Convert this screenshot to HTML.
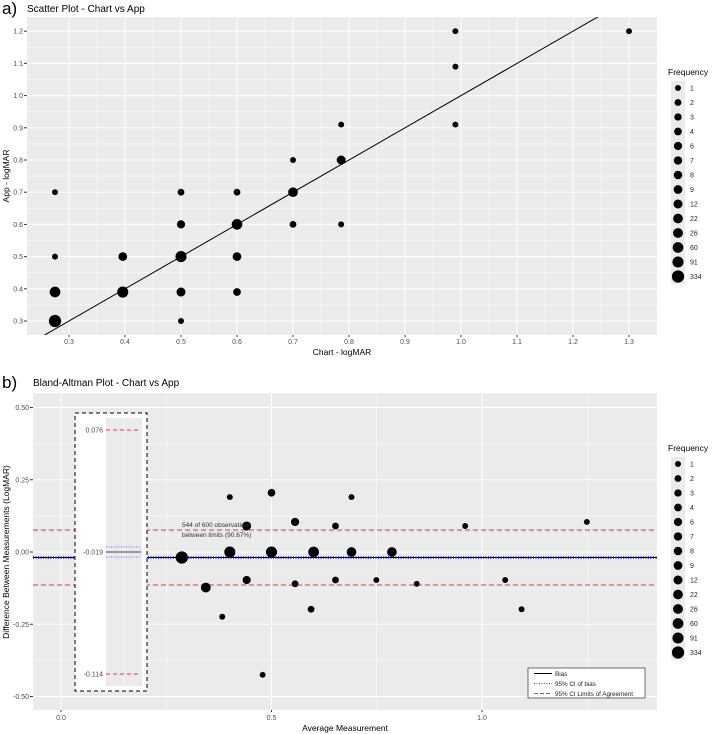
<!DOCTYPE html>
<html><head><meta charset="utf-8">
<style>
html,body{margin:0;padding:0;background:#fff;}
svg{display:block;font-family:"Liberation Sans",Arial,sans-serif;}
</style></head>
<body>
<svg id="chart" width="716" height="734" viewBox="0 0 716 734" xmlns="http://www.w3.org/2000/svg"></svg>
<script>
// ---- Panel a data ----
const aX = [0.275,0.275,0.275,0.275,0.396,0.396,0.5,0.5,0.5,0.5,0.5,0.6,0.6,0.6,0.6,0.7,0.7,0.7,0.786,0.786,0.786,0.99,0.99,0.99,1.3];
const aY = [0.3,0.39,0.5,0.7,0.39,0.5,0.3,0.39,0.5,0.6,0.7,0.39,0.5,0.6,0.7,0.6,0.7,0.8,0.6,0.8,0.91,0.91,1.09,1.2,1.2];
const aF = [334,60,1,1,91,9,1,12,91,6,2,4,9,60,2,2,22,1,1,12,1,1,1,1,1];
const aXTicks = [0.3,0.4,0.5,0.6,0.7,0.8,0.9,1.0,1.1,1.2,1.3];
const aYTicks = [0.3,0.4,0.5,0.6,0.7,0.8,0.9,1.0,1.1,1.2];
// ---- Panel b data ----
const bX = [0.287,0.401,0.5,0.6,0.69,0.786,0.344,0.401,0.441,0.441,0.383,0.5,0.479,0.556,0.556,0.594,0.652,0.652,0.69,0.749,0.845,0.96,1.055,1.094,1.249];
const bY = [-0.019,0,0,0,0,0,-0.123,0.19,0.09,-0.097,-0.224,0.205,-0.425,0.104,-0.11,-0.198,0.09,-0.097,0.19,-0.097,-0.11,0.09,-0.097,-0.198,0.104];
const bF = [334,91,91,60,22,22,26,1,12,6,1,4,1,6,2,2,2,2,1,1,1,1,1,1,1];
const bXTicks = [0.0,0.5,1.0];
const bYTicks = [0.5,0.25,0,-0.25,-0.5];
const bYLabels = ["0.50","0.25","0.00","-0.25","-0.50"];
const bias = -0.019, loaHi = 0.076, loaLo = -0.114, ciHi = -0.016, ciLo = -0.022;
const freqLevels = [1,2,3,4,6,7,8,9,12,22,26,60,91,334];

const NS="http://www.w3.org/2000/svg";
const svg=document.getElementById('chart');
function el(tag,attrs,parent){const e=document.createElementNS(NS,tag);for(const k in attrs)e.setAttribute(k,attrs[k]);(parent||svg).appendChild(e);return e;}
function txt(s,attrs,parent){const e=el('text',attrs,parent);e.textContent=s;return e;}
function rad(f){return 1.3+Math.sqrt(Math.log(f+1))*2.0;}

// ===== Panel a =====
const aL=27,aR=657,aT=17,aB=335;
const ax=v=>69+(v-0.3)*560;
const ay=v=>321-(v-0.3)*322;
const ga=el('g',{});


el('rect',{x:aL,y:aT,width:aR-aL,height:aB-aT,fill:'#ebebeb'},ga);
for(let i=0;i<aXTicks.length-1;i++){const m=ax((aXTicks[i]+aXTicks[i+1])/2);el('line',{x1:m,x2:m,y1:aT,y2:aB,stroke:'#fff','stroke-width':0.5},ga);}
for(let i=0;i<aYTicks.length-1;i++){const m=ay((aYTicks[i]+aYTicks[i+1])/2);el('line',{x1:aL,x2:aR,y1:m,y2:m,stroke:'#fff','stroke-width':0.5},ga);}
aXTicks.forEach(t=>{const x=ax(t);el('line',{x1:x,x2:x,y1:aT,y2:aB,stroke:'#fff','stroke-width':1},ga);el('line',{x1:x,x2:x,y1:aB,y2:aB+2,stroke:'#333'},ga);
 const l=txt(t.toFixed(1),{x:x,y:aB+9,'font-size':7,fill:'#4d4d4d','text-anchor':'middle'},ga);});
aYTicks.forEach(t=>{const y=ay(t);el('line',{x1:aL,x2:aR,y1:y,y2:y,stroke:'#fff','stroke-width':1},ga);el('line',{x1:aL-3,x2:aL,y1:y,y2:y,stroke:'#333'},ga);
 const l=txt(t.toFixed(1),{x:aL-4,y:y+2.5,'font-size':7,fill:'#4d4d4d','text-anchor':'end'},ga);});
const cp=el('clipPath',{id:'clipA'},ga);el('rect',{x:aL,y:aT,width:aR-aL,height:aB-aT},cp);
const idl=el('line',{x1:ax(0.2),y1:ay(0.2),x2:ax(1.4),y2:ay(1.4),stroke:'#000','stroke-width':1,'clip-path':'url(#clipA)'},ga);

aX.forEach((v,i)=>{const c=el('circle',{cx:ax(v),cy:ay(aY[i]),r:rad(aF[i]),fill:'#000'},ga);
 
 });
let t=txt('a)',{x:2,y:14,'font-size':17,fill:'#000'});
t=txt('Scatter Plot - Chart vs App',{x:27,y:12,'font-size':10,fill:'#000'});
t=txt('Chart - logMAR',{x:(aL+aR)/2,y:355,'font-size':8.5,fill:'#000','text-anchor':'middle'});
t=txt('App - logMAR',{x:0,y:0,'font-size':8.5,fill:'#000','text-anchor':'middle',transform:'translate(9,176) rotate(-90)'});

function legend(top,name){
 const g=el('g',{});
 const tt=txt('Frequency',{x:668,y:top,'font-size':8.5,fill:'#000'},g);
 const y0=top+13;
 el('rect',{x:671,y:y0-7,width:14,height:14.5*freqLevels.length,fill:'#ebebeb'},g);
 freqLevels.forEach((f,i)=>{const y=y0+i*14.5;const c=el('circle',{cx:678,cy:y,r:rad(f),fill:'#000'},g);
  
  txt(String(f),{x:690,y:y+2.5,'font-size':7,fill:'#222'},g);});
}
legend(75,'legend-a');

// ===== Panel b =====
const bL=33,bR=657,bT=393,bB=710;
const bx=v=>61+v*421;
const by=v=>552-v*289;
const gb=el('g',{});


el('rect',{x:bL,y:bT,width:bR-bL,height:bB-bT,fill:'#ebebeb'},gb);
[0.25,0.75,1.25].forEach(v=>el('line',{x1:bx(v),x2:bx(v),y1:bT,y2:bB,stroke:'#fff','stroke-width':0.5},gb));
[0.375,0.125,-0.125,-0.375].forEach(v=>el('line',{x1:bL,x2:bR,y1:by(v),y2:by(v),stroke:'#fff','stroke-width':0.5},gb));
bXTicks.forEach(v=>{const x=bx(v);el('line',{x1:x,x2:x,y1:bT,y2:bB,stroke:'#fff'},gb);el('line',{x1:x,x2:x,y1:bB,y2:bB+2,stroke:'#333'},gb);
 const l=txt(v.toFixed(1),{x:x,y:bB+10,'font-size':7,fill:'#4d4d4d','text-anchor':'middle'},gb);});
bYTicks.forEach((v,i)=>{const y=by(v);el('line',{x1:bL,x2:bR,y1:y,y2:y,stroke:'#fff'},gb);el('line',{x1:bL-3,x2:bL,y1:y,y2:y,stroke:'#333'},gb);
 const l=txt(bYLabels[i],{x:bL-4,y:y+2.5,'font-size':7,fill:'#4d4d4d','text-anchor':'end'},gb);});
function hline(v,style,name){const a={x1:bL,x2:bR,y1:by(v),y2:by(v)};Object.assign(a,style);const l=el('line',a,gb);return l;}
hline(loaHi,{stroke:'#f33','stroke-width':1,'stroke-dasharray':'5,3'},'upper-loa-line');
hline(loaLo,{stroke:'#f33','stroke-width':1,'stroke-dasharray':'5,3'},'lower-loa-line');
hline(bias,{stroke:'#000','stroke-width':1},'bias-line');
hline(ciHi,{stroke:'#33f','stroke-width':1,'stroke-dasharray':'1,1.5'},'ci-bias-upper');
hline(ciLo,{stroke:'#33f','stroke-width':1,'stroke-dasharray':'1,1.5'},'ci-bias-lower');
bX.forEach((v,i)=>{const c=el('circle',{cx:bx(v),cy:by(bY[i]),r:rad(bF[i]),fill:'#000'},gb);
 
 });
const ann=el('g',{},gb);
txt('544 of 600 observations',{x:182,y:527,'font-size':6.5,fill:'#333'},ann);
txt('between limits (90.67%)',{x:182,y:537,'font-size':6.5,fill:'#333'},ann);
const gi=el('g',{},gb);
el('rect',{x:75,y:413,width:72,height:278,fill:'#fff',stroke:'#000','stroke-width':1,'stroke-dasharray':'4,3'},gi);
el('rect',{x:106,y:418,width:36,height:268,fill:'#ebebeb'},gi);
el('line',{x1:124,x2:124,y1:418,y2:686,stroke:'#fff','stroke-width':0.5},gi);
el('line',{x1:106,x2:139,y1:430,y2:430,stroke:'#f33','stroke-dasharray':'4,3'},gi);
el('line',{x1:106,x2:139,y1:674,y2:674,stroke:'#f33','stroke-dasharray':'4,3'},gi);
el('line',{x1:106,x2:141,y1:552,y2:552,stroke:'#444','stroke-width':1}, gi);
el('line',{x1:106,x2:141,y1:547,y2:547,stroke:'#66f','stroke-dasharray':'1,1.5'},gi);
el('line',{x1:106,x2:141,y1:557,y2:557,stroke:'#66f','stroke-dasharray':'1,1.5'},gi);
txt(loaHi.toFixed(3),{x:103,y:432.5,'font-size':7,fill:'#4d4d4d','text-anchor':'end'},gi);
txt(bias.toFixed(3),{x:103,y:554.5,'font-size':7,fill:'#4d4d4d','text-anchor':'end'},gi);
txt(loaLo.toFixed(3),{x:103,y:676.5,'font-size':7,fill:'#4d4d4d','text-anchor':'end'},gi);
const gl=el('g',{},gb);
el('rect',{x:528,y:668,width:117,height:30,fill:'#fff',stroke:'#333','stroke-width':0.7},gl);
el('line',{x1:534,x2:552,y1:673.5,y2:673.5,stroke:'#000'},gl);
el('line',{x1:534,x2:552,y1:683.5,y2:683.5,stroke:'#33f','stroke-dasharray':'1,1.5'},gl);
el('line',{x1:534,x2:552,y1:693.5,y2:693.5,stroke:'#f33','stroke-dasharray':'4,2'},gl);
txt('Bias',{x:555,y:676,'font-size':6.3,fill:'#222'},gl);
txt('95% CI of bias',{x:555,y:686,'font-size':6.3,fill:'#222'},gl);
txt('95% CI Limits of Agreement',{x:555,y:696,'font-size':6.3,fill:'#222'},gl);
t=txt('b)',{x:2,y:388,'font-size':17,fill:'#000'});
t=txt('Bland-Altman Plot - Chart vs App',{x:33,y:386,'font-size':10,fill:'#000'});
t=txt('Average Measurement',{x:(bL+bR)/2,y:731,'font-size':8.5,fill:'#000','text-anchor':'middle'});
t=txt('Difference Between Measurements (LogMAR)',{x:0,y:0,'font-size':8.5,fill:'#000','text-anchor':'middle',transform:'translate(9,552) rotate(-90)'});
legend(451,'legend-b');
</script>
</body></html>
